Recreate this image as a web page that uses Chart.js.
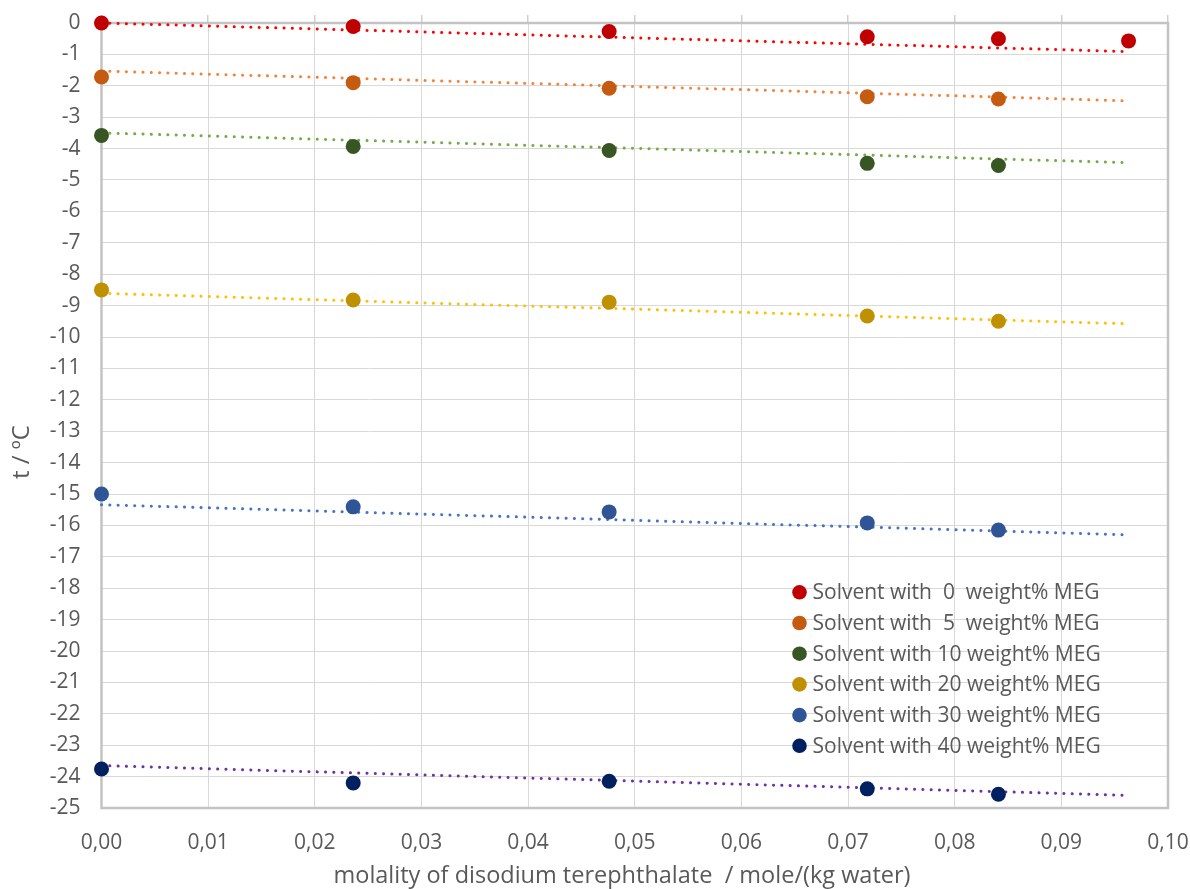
<!DOCTYPE html>
<html>
<head>
<meta charset="utf-8">
<title>Freezing temperature vs. molality of disodium terephthalate</title>
<script src="https://cdn.jsdelivr.net/npm/chart.js@4.4.1/dist/chart.umd.min.js"></script>
<style>
  html, body { margin: 0; padding: 0; background: #ffffff; }
  canvas { display: block; }
</style>
</head>
<body>
<canvas id="chart" width="1190" height="889"></canvas>
<script>
// Molality of disodium terephthalate, mole/(kg water)
const molality = [0.0000, 0.0236, 0.0476, 0.0718, 0.0841, 0.0963];

// Measured freezing temperatures, °C, for each MEG content
const tMeg0  = [0.00, -0.11, -0.27, -0.44, -0.50, -0.57];
const tMeg5  = [-1.72, -1.90, -2.08, -2.35, -2.42, null];
const tMeg10 = [-3.58, -3.93, -4.06, -4.47, -4.54, null];
const tMeg20 = [-8.50, -8.82, -8.89, -9.33, -9.50, null];
const tMeg30 = [-15.00, -15.41, -15.57, -15.92, -16.15, null];
const tMeg40 = [-23.76, -24.20, -24.15, -24.39, -24.56, null];

const seriesLabels = [
  'Solvent with  0  weight% MEG',
  'Solvent with  5  weight% MEG',
  'Solvent with 10 weight% MEG',
  'Solvent with 20 weight% MEG',
  'Solvent with 30 weight% MEG',
  'Solvent with 40 weight% MEG'
];

// Linear trend lines: value at the start and at the end of the molality range
const trendRange = [0.0000, 0.0963];
const trendStart = [0.00, -1.53, -3.50, -8.61, -15.34, -23.65];
const trendEnd   = [-0.91, -2.48, -4.45, -9.58, -16.30, -24.60];

// Axis ranges
const xMin = 0, xMax = 0.10, xStep = 0.01;
const yMin = -25, yMax = 0, yStep = 1;

const xTitle = 'molality of disodium terephthalate  / mole/(kg water)';
const yTitle = 't / \u00BAC';

const markerColors = ['#C00000', '#C55A11', '#375623', '#BF9000', '#2F5597', '#002060'];
const trendColors  = ['#FF0000', '#F4823A', '#70AD47', '#FFC000', '#4472C4', '#7030A0'];

const seriesValues = [tMeg0, tMeg5, tMeg10, tMeg20, tMeg30, tMeg40];

const FONT = '"Open Sans", "Liberation Sans", sans-serif';
const TEXT = '#595959';

const datasets = [];
seriesValues.forEach((vals, i) => {
  datasets.push({
    type: 'scatter',
    label: seriesLabels[i],
    data: molality.map((m, k) => vals[k] === null ? null : { x: m, y: vals[k] }).filter(p => p),
    backgroundColor: markerColors[i],
    borderColor: markerColors[i],
    pointRadius: 7.5,
    pointHoverRadius: 7.5,
    borderWidth: 0,
    showLine: false,
    clip: false,
    order: 0
  });
});
seriesValues.forEach((vals, i) => {
  datasets.push({
    type: 'line',
    label: 'trend ' + i,
    isTrend: true,
    data: [{ x: trendRange[0], y: trendStart[i] }, { x: trendRange[1], y: trendEnd[i] }],
    borderColor: trendColors[i],
    borderWidth: 3,
    borderDash: [0.1, 8.2],
    borderCapStyle: 'round',
    pointRadius: 0,
    fill: false,
    tension: 0,
    clip: false,
    order: 1
  });
});

const decorations = {
  id: 'decorations',
  beforeDatasetsDraw(chart) {
    const { ctx, chartArea: a } = chart;
    ctx.save();
    ctx.strokeStyle = '#c3c3c3';
    ctx.lineWidth = 2.5;
    ctx.strokeRect(a.left, a.top, a.right - a.left, a.bottom - a.top);
    ctx.restore();
  },
  afterDraw(chart) {
    const { ctx } = chart;
    // axis titles
    ctx.save();
    ctx.fillStyle = TEXT;
    ctx.font = '23.5px ' + FONT;
    ctx.textAlign = 'center';
    ctx.textBaseline = 'alphabetic';
    ctx.fillText(xTitle, 622, 883);
    ctx.restore();

    ctx.save();
    ctx.fillStyle = TEXT;
    ctx.font = '24px ' + FONT;
    ctx.textAlign = 'center';
    ctx.textBaseline = 'middle';
    ctx.translate(22, 452);
    ctx.rotate(-Math.PI / 2);
    ctx.fillText(yTitle, 0, 0);
    ctx.restore();

    // legend inside the plot area
    ctx.save();
    ctx.font = '21px ' + FONT;
    ctx.textAlign = 'left';
    ctx.textBaseline = 'middle';
    const lx = 799.5, ly = 592.3, step = 30.7;
    chart.data.datasets.filter(d => !d.isTrend).forEach((d, i) => {
      const y = ly + i * step;
      ctx.beginPath();
      ctx.arc(lx, y, 7.3, 0, Math.PI * 2);
      ctx.fillStyle = d.backgroundColor;
      ctx.fill();
      ctx.fillStyle = TEXT;
      ctx.fillText(d.label, lx + 13, y + 1);
    });
    ctx.restore();
  }
};

// keep the plot area fixed: no extra room for overhanging tick labels
function noOverhang(s) {
  s.paddingLeft = 0; s.paddingRight = 0; s.paddingTop = 0; s.paddingBottom = 0;
}

new Chart(document.getElementById('chart'), {
  data: { datasets },
  options: {
    responsive: false,
    animation: false,
    events: [],
    layout: { padding: { left: 0, right: 22, top: 0, bottom: 0 } },
    plugins: {
      legend: { display: false },
      tooltip: { enabled: false },
      title: { display: false }
    },
    scales: {
      x: {
        type: 'linear',
        position: 'bottom',
        min: xMin, max: xMax,
        ticks: {
          stepSize: xStep,
          color: TEXT,
          font: { family: FONT, size: 21 },
          padding: 22,
          maxRotation: 0,
          callback: v => v.toFixed(2).replace('.', ',')
        },
        grid: { color: '#d9d9d9', lineWidth: 1, drawTicks: false },
        border: { display: false },
        afterFit: s => { s.height = 81; noOverhang(s); }
      },
      xTop: {
        type: 'linear',
        position: 'top',
        min: xMin, max: xMax,
        ticks: { stepSize: xStep, display: false },
        grid: { color: '#d0d0d0', lineWidth: 1.5, drawOnChartArea: false, drawTicks: true, tickLength: 8 },
        border: { display: false },
        afterFit: s => { s.height = 23; noOverhang(s); }
      },
      y: {
        type: 'linear',
        position: 'left',
        min: yMin, max: yMax,
        ticks: {
          stepSize: yStep,
          color: TEXT,
          font: { family: FONT, size: 21 },
          padding: 21,
          callback: v => String(v)
        },
        grid: { color: '#d9d9d9', lineWidth: 1, drawTicks: false },
        border: { display: false },
        afterFit: s => { s.width = 101.5; noOverhang(s); }
      }
    }
  },
  plugins: [decorations]
});
</script>
</body>
</html>
